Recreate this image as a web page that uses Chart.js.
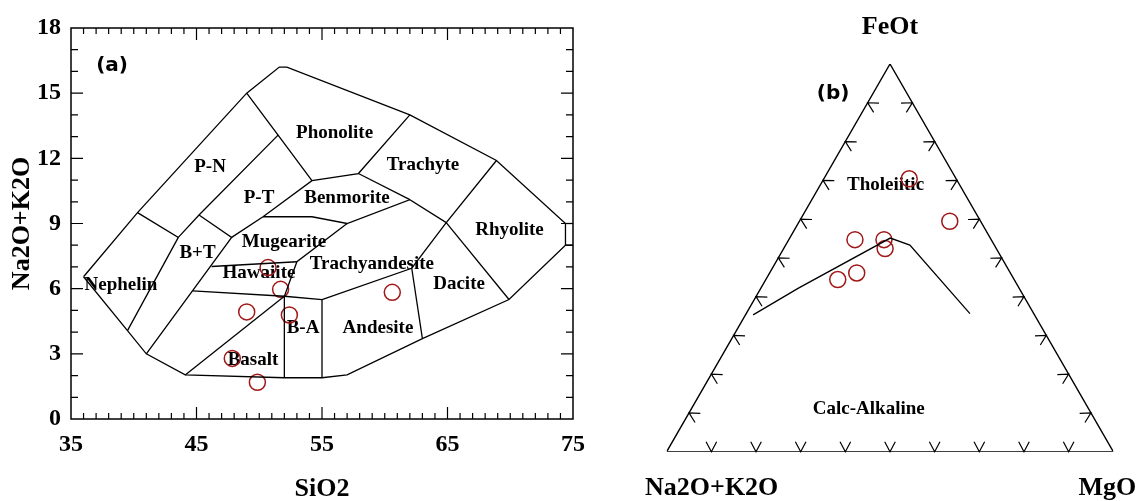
<!DOCTYPE html>
<html>
<head>
<meta charset="utf-8">
<script src="https://cdn.jsdelivr.net/npm/chart.js@4/dist/chart.umd.min.js"></script>
<style>
  body { margin: 0; background: #fff; }
  #wrap { position: relative; width: 1137px; height: 501px; }
  canvas { position: absolute; top: 0; }
  #tas { left: 0; }
  #afm { left: 600px; }
</style>
</head>
<body>
<div id="wrap">
  <canvas id="tas" width="600" height="501"></canvas>
  <canvas id="afm" width="537" height="501"></canvas>
</div>
<script>
// ---- (a) TAS diagram ----
const xTickValues = [35, 45, 55, 65, 75];
const yTickValues = [0, 3, 6, 9, 12, 15, 18];

const sampleSiO2 = [50.7, 51.7, 49.0, 52.4, 47.85, 49.85, 60.6];
const sampleAlk = [6.97, 5.97, 4.93, 4.79, 2.79, 1.69, 5.83];

// field boundaries (SiO2, Na2O+K2O)
const tasOutline = [[36.0, 6.55], [40.3, 9.5], [49.0, 15.0], [51.6, 16.2], [52.2, 16.2], [62.0, 14.0], [68.9, 11.9],
  [74.4, 9.0], [74.4, 8.0], [69.9, 5.5], [63.0, 3.7], [57.0, 2.03], [55.0, 1.9], [52.0, 1.9], [44.1, 2.03],
  [41.0, 3.0], [39.5, 4.07], [36.0, 6.55]];
const tasEdgeTop = [[74.4, 9.0], [75, 9.0]];
const tasEdgeBottom = [[74.4, 8.0], [75, 8.0]];
const nephelinTop = [[40.3, 9.5], [43.55, 8.36], [39.5, 4.07]];
const phonoliteLeft = [[49.0, 15.0], [51.5, 13.07], [54.2, 10.97]];
const pnBottom = [[51.5, 13.07], [45.2, 9.39], [43.55, 8.36]];
const btRight = [[45.2, 9.39], [47.8, 8.36], [41.0, 3.0]];
const ptBottom = [[47.8, 8.36], [50.3, 9.31], [54.2, 10.97], [57.9, 11.3], [62.0, 14.0]];
const mugeariteTop = [[50.3, 9.31], [54.2, 9.31], [57.0, 9.0], [62.0, 10.1], [64.9, 9.04], [68.9, 11.9]];
const trachyteLeft = [[57.9, 11.3], [62.0, 10.1]];
const mugeariteRight = [[57.0, 9.0], [53.0, 7.24], [52.0, 5.65], [52.0, 1.9]];
const hawaiiteTop = [[46.2, 7.02], [53.0, 7.24]];
const hawaiiteBottom = [[44.7, 5.9], [52.0, 5.65], [55.0, 5.5]];
const basaltDiag = [[44.1, 2.03], [52.0, 5.65]];
const baRight = [[55.0, 5.5], [55.0, 1.9]];
const andesiteTop = [[55.0, 5.5], [62.15, 6.94], [64.9, 9.04]];
const daciteLeft = [[62.15, 6.94], [63.0, 3.7]];
const rhyoliteBottom = [[64.9, 9.04], [69.9, 5.5]];

const tasLines = [tasOutline, tasEdgeTop, tasEdgeBottom, nephelinTop, phonoliteLeft, pnBottom, btRight, ptBottom,
  mugeariteTop, trachyteLeft, mugeariteRight, hawaiiteTop, hawaiiteBottom, basaltDiag, baRight, andesiteTop,
  daciteLeft, rhyoliteBottom];

const fieldNames = ['P-N', 'P-T', 'B+T', 'Nephelin', 'Mugearite', 'Hawaiite', 'Trachyandesite', 'Benmorite',
  'Phonolite', 'Trachyte', 'Rhyolite', 'Dacite', 'Andesite', 'B-A', 'Basalt'];
const fieldX = [46.08, 49.98, 45.08, 38.98, 51.97, 49.98, 58.98, 56.99, 56.0, 63.05, 69.94, 65.92, 59.46, 53.49, 49.5];
const fieldY = [11.6, 10.17, 7.64, 6.17, 8.15, 6.72, 7.14, 10.17, 13.17, 11.67, 8.7, 6.22, 4.19, 4.19, 2.72];

// ---- (b) AFM diagram (percent Na2O+K2O, FeOt, MgO) ----
const afmA = [10.5, 6.9, 24.0, 24.9, 30.5, 34.4, 39.5];
const afmF = [70.4, 59.5, 54.7, 52.4, 54.7, 46.1, 44.4];
const afmM = [19.1, 33.7, 21.3, 22.7, 14.8, 19.5, 16.1];

const divideA = [63.0, 49.4, 22.4, 18.9, 14.3];
const divideF = [35.3, 42.2, 55.1, 53.3, 35.6];
const divideM = [1.7, 8.4, 22.5, 27.8, 50.1];

const afmTickValues = [10, 20, 30, 40, 50, 60, 70, 80, 90];
const afmFieldNames = ['Tholeiitic', 'Calc-Alkaline'];
const afmFieldA = [16.6, 49.2];
const afmFieldF = [68.8, 11.1];
const afmFieldM = [14.6, 39.7];

const circleColor = '#a01818';
const serif = '"Liberation Serif", "Times New Roman", serif';

Chart.defaults.font.family = serif;
Chart.defaults.color = '#000';

const toXY = pts => pts.map(([x, y]) => ({ x, y }));

const tern = (a, f, m) => {
  const s = a + f + m;
  return { x: (m + f / 2) / s, y: (f / s) * Math.sqrt(3) / 2 };
};

// inward ticks on all four sides plus the frame, labels of the fields
const tasDecor = {
  id: 'tasDecor',
  beforeDatasetsDraw(chart) {
    const { ctx, scales: { x, y } } = chart;
    ctx.save();
    ctx.fillStyle = '#000';
    ctx.font = 'bold 19px ' + serif;
    ctx.textAlign = 'center';
    ctx.textBaseline = 'middle';
    fieldNames.forEach((name, i) => {
      ctx.fillText(name, x.getPixelForValue(fieldX[i]), y.getPixelForValue(fieldY[i]));
    });
    ctx.font = 'bold 20px "DejaVu Sans", sans-serif';
    ctx.fillText('(a)', x.getPixelForValue(38.27), y.getPixelForValue(16.25));
    ctx.restore();
  },
  afterDraw(chart) {
    const { ctx, chartArea: a, scales: { x, y } } = chart;
    ctx.save();
    ctx.strokeStyle = '#000';
    ctx.lineWidth = 1.5;
    ctx.strokeRect(a.left, a.top, a.right - a.left, a.bottom - a.top);
    ctx.lineWidth = 1.2;
    ctx.beginPath();
    for (let v = 36; v < 75; v++) {
      const px = x.getPixelForValue(v);
      const len = (v - 35) % 10 === 0 ? 12 : 6;
      ctx.moveTo(px, a.bottom); ctx.lineTo(px, a.bottom - len);
      ctx.moveTo(px, a.top); ctx.lineTo(px, a.top + len);
    }
    for (let v = 1; v < 18; v++) {
      const py = y.getPixelForValue(v);
      const len = v % 3 === 0 ? 12 : 7;
      ctx.moveTo(a.left, py); ctx.lineTo(a.left + len, py);
      ctx.moveTo(a.right, py); ctx.lineTo(a.right - len, py);
    }
    ctx.stroke();
    ctx.restore();
  }
};

const lineSets = tasLines.map(pts => ({
  data: toXY(pts),
  showLine: true,
  pointRadius: 0,
  borderColor: '#000',
  borderWidth: 1.3,
  fill: false
}));

new Chart(document.getElementById('tas'), {
  type: 'scatter',
  data: {
    datasets: [
      ...lineSets,
      {
        data: sampleSiO2.map((v, i) => ({ x: v, y: sampleAlk[i] })),
        pointRadius: 8,
        pointBorderWidth: 1.5,
        pointBorderColor: circleColor,
        pointBackgroundColor: 'rgba(0,0,0,0)'
      }
    ]
  },
  options: {
    responsive: false,
    animation: false,
    devicePixelRatio: 1,
    layout: { padding: { left: 0, top: 28, right: 27, bottom: 0 } },
    plugins: { legend: { display: false }, tooltip: { enabled: false } },
    scales: {
      x: {
        type: 'linear',
        min: 35,
        max: 75,
        afterBuildTicks: s => { s.ticks = xTickValues.map(v => ({ value: v })); },
        afterFit: s => { s.height = 82; },
        grid: { display: false, drawTicks: false },
        border: { display: false },
        ticks: { padding: 11, maxRotation: 0, autoSkip: false, font: { size: 24, weight: 'bold' }, color: '#000' },
        title: { display: true, text: 'SiO2', padding: 0, font: { size: 26, weight: 'bold', lineHeight: 0.9 }, color: '#000' }
      },
      y: {
        type: 'linear',
        min: 0,
        max: 18,
        afterBuildTicks: s => { s.ticks = yTickValues.map(v => ({ value: v })); },
        afterFit: s => { s.width = 71; },
        grid: { display: false, drawTicks: false },
        border: { display: false },
        ticks: { padding: 10, autoSkip: false, font: { size: 24, weight: 'bold' }, color: '#000' },
        title: { display: true, text: 'Na2O+K2O', padding: { top: 11, bottom: 0 }, font: { size: 26, weight: 'bold', lineHeight: 0.9 }, color: '#000' }
      }
    }
  },
  plugins: [tasDecor]
});

// ---- (b) ----
const chevron = (ctx, px, py, rot) => {
  const c = Math.cos(rot), s = Math.sin(rot);
  const arm = ([dx, dy]) => [px + dx * c - dy * s, py + dx * s + dy * c];
  const p1 = arm([-5.3, -10]), p2 = arm([5.3, -10]);
  ctx.moveTo(p1[0], p1[1]);
  ctx.lineTo(px, py);
  ctx.lineTo(p2[0], p2[1]);
};

const afmDecor = {
  id: 'afmDecor',
  beforeDatasetsDraw(chart) {
    const { ctx, scales: { x, y } } = chart;
    const px = p => [x.getPixelForValue(p.x), y.getPixelForValue(p.y)];
    ctx.save();
    ctx.strokeStyle = '#000';
    ctx.lineWidth = 1.2;
    ctx.beginPath();
    afmTickValues.forEach(v => {
      let [bx, by] = px(tern(100 - v, 0, v));
      chevron(ctx, bx, by, 0);
      [bx, by] = px(tern(100 - v, v, 0));
      chevron(ctx, bx, by, 2 * Math.PI / 3);
      [bx, by] = px(tern(0, v, 100 - v));
      chevron(ctx, bx, by, -2 * Math.PI / 3);
    });
    ctx.stroke();

    ctx.fillStyle = '#000';
    ctx.textAlign = 'center';
    ctx.textBaseline = 'middle';
    ctx.font = 'bold 19px ' + serif;
    afmFieldNames.forEach((name, i) => {
      const [lx, ly] = px(tern(afmFieldA[i], afmFieldF[i], afmFieldM[i]));
      ctx.fillText(name, lx, ly);
    });

    ctx.font = 'bold 26px ' + serif;
    const [ax, ay] = px(tern(100, 0, 0));
    const [fx, fy] = px(tern(0, 100, 0));
    const [mx, my] = px(tern(0, 0, 100));
    ctx.fillText('FeOt', fx, fy - 37);
    ctx.fillText('Na2O+K2O', ax + 45, ay + 37);
    ctx.fillText('MgO', mx - 6, my + 37);

    ctx.font = 'bold 20px "DejaVu Sans", sans-serif';
    ctx.fillText('(b)', x.getPixelForValue(0.3725), y.getPixelForValue(0.8004));
    ctx.restore();
  }
};

const triangle = [tern(100, 0, 0), tern(0, 100, 0), tern(0, 0, 100), tern(100, 0, 0)];

new Chart(document.getElementById('afm'), {
  type: 'scatter',
  data: {
    datasets: [
      {
        data: triangle,
        showLine: true,
        pointRadius: 0,
        borderColor: '#000',
        borderWidth: 1.4,
        fill: false
      },
      {
        data: divideA.map((a, i) => tern(a, divideF[i], divideM[i])),
        showLine: true,
        pointRadius: 0,
        borderColor: '#000',
        borderWidth: 1.3,
        fill: false
      },
      {
        data: afmA.map((a, i) => tern(a, afmF[i], afmM[i])),
        pointRadius: 8,
        pointBorderWidth: 1.5,
        pointBorderColor: circleColor,
        pointBackgroundColor: 'rgba(0,0,0,0)'
      }
    ]
  },
  options: {
    responsive: false,
    animation: false,
    devicePixelRatio: 1,
    layout: { padding: { left: 66.7, top: 64, right: 23.7, bottom: 49.3 } },
    plugins: { legend: { display: false }, tooltip: { enabled: false } },
    scales: {
      x: { type: 'linear', min: 0, max: 1, display: false },
      y: { type: 'linear', min: 0, max: Math.sqrt(3) / 2, display: false }
    }
  },
  plugins: [afmDecor]
});
</script>
</body>
</html>
